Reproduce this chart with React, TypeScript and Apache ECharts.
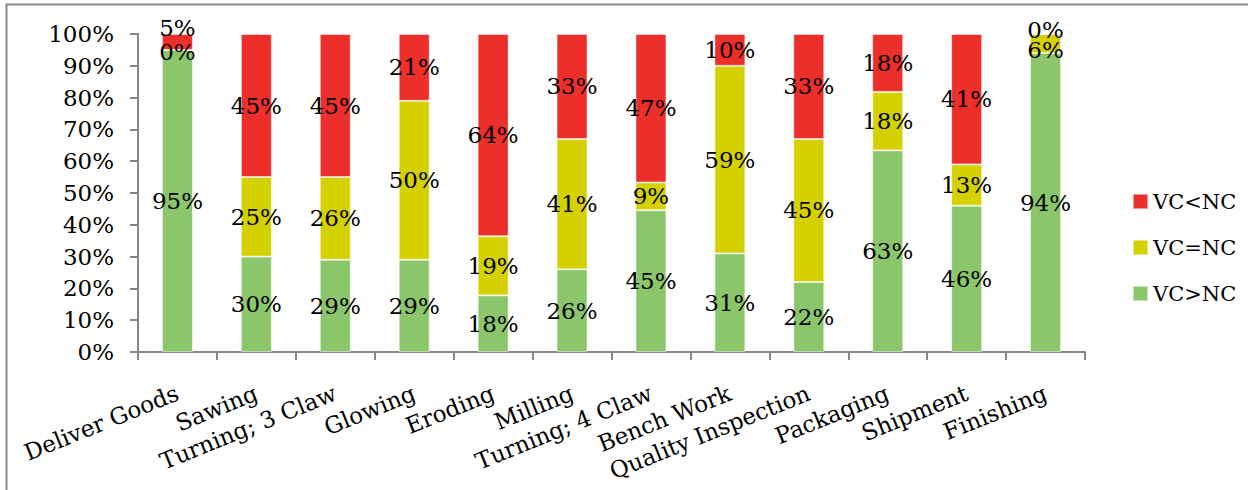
import React, { useEffect, useRef } from "react";
import * as echarts from "echarts";

const categories = [
  "Deliver Goods",
  "Sawing",
  "Turning; 3 Claw",
  "Glowing",
  "Eroding",
  "Milling",
  "Turning; 4 Claw",
  "Bench Work",
  "Quality Inspection",
  "Packaging",
  "Shipment",
  "Finishing",
];

const seriesNames = ["VC>NC", "VC=NC", "VC<NC"];
const vcGreaterNc = [95, 30, 29, 29, 17.8, 26, 44.6, 31, 22, 63.4, 46, 94];
const vcEqualNc = [0, 25, 26, 50, 18.6, 41, 8.7, 59, 45, 18.4, 13, 6];
const vcLessNc = [5, 45, 45, 21, 63.6, 33, 46.7, 10, 33, 18.2, 41, 0];
const yTicks = [0, 10, 20, 30, 40, 50, 60, 70, 80, 90, 100];

const colors = ["#8BC66A", "#D5D100", "#EC2F2A"];
const FONT = "DejaVu Serif";

// manual label nudges (as in the reference) : [seriesIndex, dataIndex, dy]
const labelNudges: [number, number, number][] = [
  [2, 0, -14],
  [1, 0, 2],
  [2, 11, -4],
  [1, 11, 6],
];

export default function App() {
  const ref = useRef<HTMLDivElement>(null);
  useEffect(() => {
    if (!ref.current) return;
    const chart = echarts.init(ref.current, undefined, { renderer: "svg" });
    const all = [vcGreaterNc, vcEqualNc, vcLessNc];
    const series = all.map((vals, si) => ({
      name: seriesNames[si],
      type: "bar",
      stack: "total",
      barWidth: 31,
      itemStyle: {
        color: colors[si],
        borderColor: "rgba(255,255,255,0.5)",
        borderWidth: 1,
      },
      label: {
        show: true,
        position: "inside",
        color: "#000",
        fontFamily: FONT,
        fontSize: 23,
        formatter: (p: any) => Math.round(p.value) + "%",
      },
      data: vals.map((v, di) => {
        const n = labelNudges.find((x) => x[0] === si && x[1] === di);
        return n ? { value: v, label: { offset: [0, n[2]] } } : v;
      }),
    }));
    chart.setOption({
      animation: false,
      backgroundColor: "#fff",
      textStyle: { fontFamily: FONT },
      graphic: [
        {
          type: "rect",
          shape: { x: 6.5, y: 4.5, width: 1300, height: 600 },
          style: { fill: "none", stroke: "#8a8a8a", lineWidth: 2 },
          silent: true,
        },
      ],
      grid: { left: 138, right: 163, top: 34, bottom: 138 },
      legend: {
        orient: "vertical",
        left: 1127,
        top: 186,
        itemWidth: 15,
        itemHeight: 15,
        itemGap: 25,
        icon: "rect",
        data: ["VC<NC", "VC=NC", "VC>NC"],
        textStyle: { fontFamily: FONT, fontSize: 21, color: "#000" },
      },
      xAxis: {
        type: "category",
        data: categories,
        axisLine: { lineStyle: { color: "#868686", width: 2 } },
        axisTick: { show: true, length: 8, lineStyle: { color: "#868686", width: 2 } },
        axisLabel: {
          rotate: 22,
          margin: 40,
          interval: 0,
          color: "#000",
          fontFamily: FONT,
          fontSize: 23,
        },
      },
      yAxis: {
        type: "value",
        min: yTicks[0],
        max: yTicks[yTicks.length - 1],
        interval: 10,
        splitLine: { show: false },
        axisLine: { show: true, lineStyle: { color: "#868686", width: 2 } },
        axisTick: { show: true, length: 8, lineStyle: { color: "#868686", width: 2 } },
        axisLabel: {
          margin: 24,
          color: "#000",
          fontFamily: FONT,
          fontSize: 23,
          formatter: "{value}%",
        },
      },
      series,
    });
    return () => chart.dispose();
  }, []);
  return (
    <div
      ref={ref}
      style={{ position: "fixed", left: 0, top: 0, width: 1248, height: 490 }}
    />
  );
}
